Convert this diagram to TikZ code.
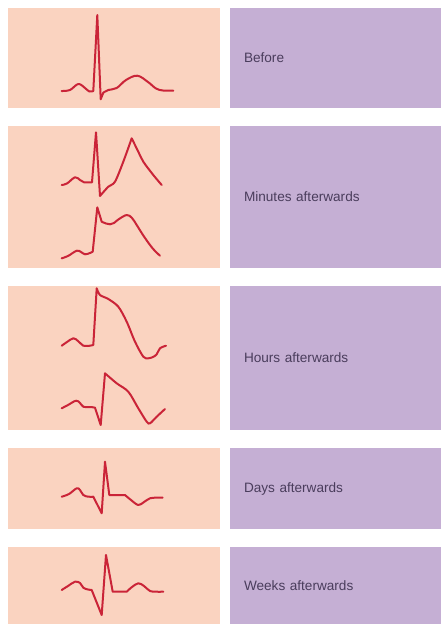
\documentclass[tikz,border=0pt]{standalone}
\usepackage{fontspec}
\setmainfont{Liberation Sans}
\usepackage{tikz}
\usetikzlibrary{positioning}
\definecolor{peach}{RGB}{250,211,192}
\definecolor{lilac}{RGB}{197,175,212}
\definecolor{ink}{RGB}{74,61,92}
\definecolor{ecgred}{RGB}{202,36,56}

\begin{document}
\begin{tikzpicture}[x=1pt, y=-1pt,
                ecgpane/.style={rectangle, fill=peach, inner sep=0pt, minimum width=212pt},
                phase/.style={rectangle, fill=lilac, inner xsep=14pt, inner ysep=0pt, minimum width=211pt,
                    text width=183pt, align=left, text=ink, font=\fontsize{13.6}{15}\selectfont},
                ecg/.style={draw=ecgred, line width=2pt, line join=round, line cap=round}
            ]
                \fill[white] (0,0) rectangle (441,624);
                \useasboundingbox (0,0) rectangle (441,624);

                % left panels
                \node[ecgpane, minimum height=100pt] (beforeecg) at (114,58) {};
                \node[ecgpane, minimum height=142pt] (minutesecg) at (114,197) {};
                \node[ecgpane, minimum height=144pt] (hoursecg) at (114,358) {};
                \node[ecgpane, minimum height=81pt] (daysecg) at (114,488.5) {};
                \node[ecgpane, minimum height=77pt] (weeksecg) at (114,585.5) {};

                % right panels
                \node[phase, minimum height=100pt] (before) at (335.5,58) {Before};
                \node[phase, minimum height=142pt] (minutes) at (335.5,197) {Minutes afterwards};
                \node[phase, minimum height=144pt] (hours) at (335.5,358) {Hours afterwards};
                \node[phase, minimum height=81pt] (days) at (335.5,488.5) {Days afterwards};
                \node[phase, minimum height=77pt] (weeks) at (335.5,585.5) {Weeks afterwards};

                % traces
                \draw[ecg] plot[smooth, tension=0.6] coordinates {(61.7,91) (70,90) (78.3,84) (85,88) (89.3,91.5) (93.3,91)}
                    -- (97.3,15) -- (100.7,99.3)
                    -- plot[smooth, tension=0.6] coordinates {(103.3,92.7) (108.3,90) (116.7,88) (126,80) (137.3,75.7) (148,82) (156,88.5) (163,90.5) (173.3,90.7)};

                \draw[ecg] plot[smooth, tension=0.6] coordinates {(61.7,185) (67,183.5) (75,177.3) (80,180) (84,182.3) (92,182.3)}
                    -- (96,132.3) -- (100,196)
                    -- plot[smooth, tension=0.5] coordinates {(100,196) (108.3,186.7) (115,181.7) (123.3,161.7) (131.7,138.3)}
                    -- plot[smooth, tension=0.5] coordinates {(131.7,138.3) (138.3,151.7) (143.3,161.7) (153.3,175) (161.7,185)};

                \draw[ecg] plot[smooth, tension=0.6] coordinates {(61.7,258.3) (68,256) (76.7,250.7) (81,252) (85,254.3) (90,253) (92.7,251.7)}
                    -- (97.3,207.3) -- (101.7,221.7)
                    -- plot[smooth, tension=0.6] coordinates {(101.7,221.7) (106,223.5) (110,224.3) (114,223) (118.3,219.5) (126.7,215) (132,218) (136.7,225) (143,235) (150,245) (155,251) (160,255.7)};

                \draw[ecg] plot[smooth, tension=0.6] coordinates {(61.7,345.7) (67,342) (73.3,338.3) (78,341) (83.3,345.7) (88,346) (93.3,345)}
                    -- (96.7,288.3)
                    -- plot[smooth, tension=0.5] coordinates {(96.7,288.3) (100,295) (108.3,299) (118.3,306.7) (126.7,321.7) (135,341.7) (143.3,356.7) (148.3,358.3) (153,357) (156.7,354.3) (160,348.3) (166,345.7)};

                \draw[ecg] plot[smooth, tension=0.6] coordinates {(61.7,408.3) (68,405) (76,400.7) (80,403) (83.3,406.7) (88,407) (91,407) (95,407.7)}
                    -- (100.7,425) -- (105,373.3)
                    -- plot[smooth, tension=0.5] coordinates {(105,373.3) (116.7,383.3) (128.3,391.7) (138.3,408.3) (146.7,421.7) (150,423.3) (156.7,416.7) (165,409)};

                \draw[ecg] plot[smooth, tension=0.6] coordinates {(61.7,496.7) (69,494) (76.7,488.3) (80,490) (83.3,495) (88.3,496.7) (93.3,496.7)}
                    -- (101.7,513.3) -- (105,461.7) -- (109.3,495) -- (125,495)
                    -- plot[smooth, tension=0.6] coordinates {(125,495) (131,500) (138.3,505) (144,502) (150,498.3) (156,497.7) (162.7,497.7)};

                \draw[ecg] plot[smooth, tension=0.6] coordinates {(61.7,590) (68,586) (75,581.7) (80,583) (83.3,587.7) (88,589.5) (91.7,590)}
                    -- (101.7,615) -- (106,555) -- (112.7,591.7) -- (126.7,591.7)
                    -- plot[smooth, tension=0.6] coordinates {(126.7,591.7) (132,587) (138.3,583.3) (144,586) (150,591) (156,591.7) (163.3,591.7)};
            \end{tikzpicture}
\end{document}
